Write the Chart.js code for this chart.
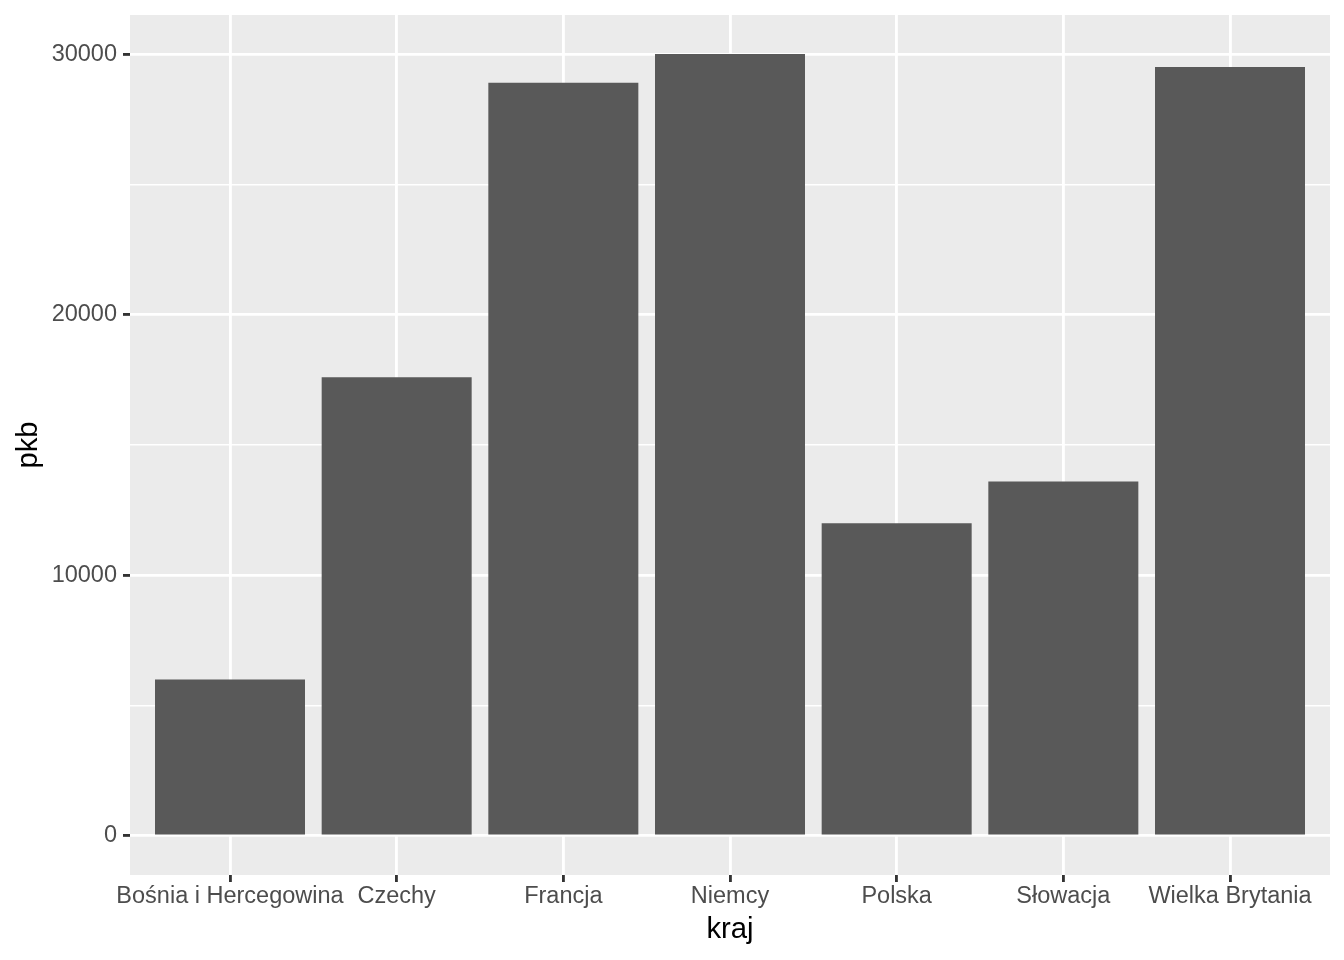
<!DOCTYPE html>
<html>
<head>
<meta charset="utf-8">
<script src="https://cdn.jsdelivr.net/npm/chart.js@4/dist/chart.umd.min.js"></script>
<style>
  html, body { margin: 0; padding: 0; background: #fff; }
  #wrap { width: 1344px; height: 960px; }
</style>
</head>
<body>
<div id="wrap"><canvas id="chart" width="1344" height="960"></canvas></div>
<script>
// values
const countries = ['Bośnia i Hercegowina', 'Czechy', 'Francja', 'Niemcy', 'Polska', 'Słowacja', 'Wielka Brytania'];
const gdp = [6000, 17600, 28900, 30000, 12000, 13600, 29500];
const yTicks = [0, 5000, 10000, 15000, 20000, 25000, 30000];
const yLabelTicks = [0, 10000, 20000, 30000];

const FONT = '"Liberation Sans", Arial, Helvetica, sans-serif';

const panelBackground = {
  id: 'panelBackground',
  beforeDraw: function (chart) {
    const { ctx, chartArea } = chart;
    ctx.save();
    ctx.fillStyle = '#EBEBEB';
    ctx.fillRect(chartArea.left, chartArea.top, chartArea.right - chartArea.left, chartArea.bottom - chartArea.top);
    ctx.restore();
  }
};

const isMajor = (v) => yLabelTicks.indexOf(v) !== -1;

new Chart(document.getElementById('chart'), {
  type: 'bar',
  data: {
    datasets: [{
      data: countries.map((c, i) => ({ x: i + 1, y: gdp[i] })),
      backgroundColor: '#595959',
      borderWidth: 0,
      barPercentage: 0.9,
      categoryPercentage: 1.0,
    }]
  },
  options: {
    responsive: false,
    animation: false,
    layout: { padding: { top: 15, right: 14, left: 0, bottom: 0 } },
    plugins: {
      legend: { display: false },
      tooltip: { enabled: false },
    },
    scales: {
      x: {
        type: 'linear',
        min: 0.4,
        max: 7.6,
        offset: false,
        afterBuildTicks: (scale) => { scale.ticks = countries.map((c, i) => ({ value: i + 1 })); },
        afterFit: (scale) => { scale.height = 85; },
        ticks: {
          callback: (v) => countries[v - 1],
          color: '#4D4D4D',
          font: { family: FONT, size: 23.5 },
          padding: 0,
          maxRotation: 0,
          autoSkip: false,
        },
        grid: {
          offset: false,
          color: '#FFFFFF',
          lineWidth: 2.85,
          tickColor: '#333333',
          tickWidth: 2.85,
          tickLength: 7,
        },
        border: { display: false },
        title: {
          display: true,
          text: 'kraj',
          color: '#000000',
          font: { family: FONT, size: 29.3 },
          padding: { top: 0, bottom: 13 },
        },
      },
      y: {
        min: -1500,
        max: 31500,
        afterBuildTicks: (scale) => { scale.ticks = yTicks.map((v) => ({ value: v })); },
        afterFit: (scale) => {
          scale.width = 130;
          scale.paddingTop = 0;
        },
        ticks: {
          callback: (v) => isMajor(v) ? String(v) : '',
          color: '#4D4D4D',
          font: { family: FONT, size: 23.5 },
          padding: 6,
        },
        grid: {
          color: '#FFFFFF',
          lineWidth: (ctx) => isMajor(ctx.tick.value) ? 2.85 : 1.42,
          tickColor: (ctx) => isMajor(ctx.tick.value) ? '#333333' : 'rgba(0,0,0,0)',
          tickWidth: 2.85,
          tickLength: 7,
        },
        border: { display: false },
        title: {
          display: true,
          text: 'pkb',
          color: '#000000',
          font: { family: FONT, size: 29.3 },
          padding: { top: 11, bottom: 0 },
        },
      },
    },
  },
  plugins: [panelBackground],
});
</script>
</body>
</html>
